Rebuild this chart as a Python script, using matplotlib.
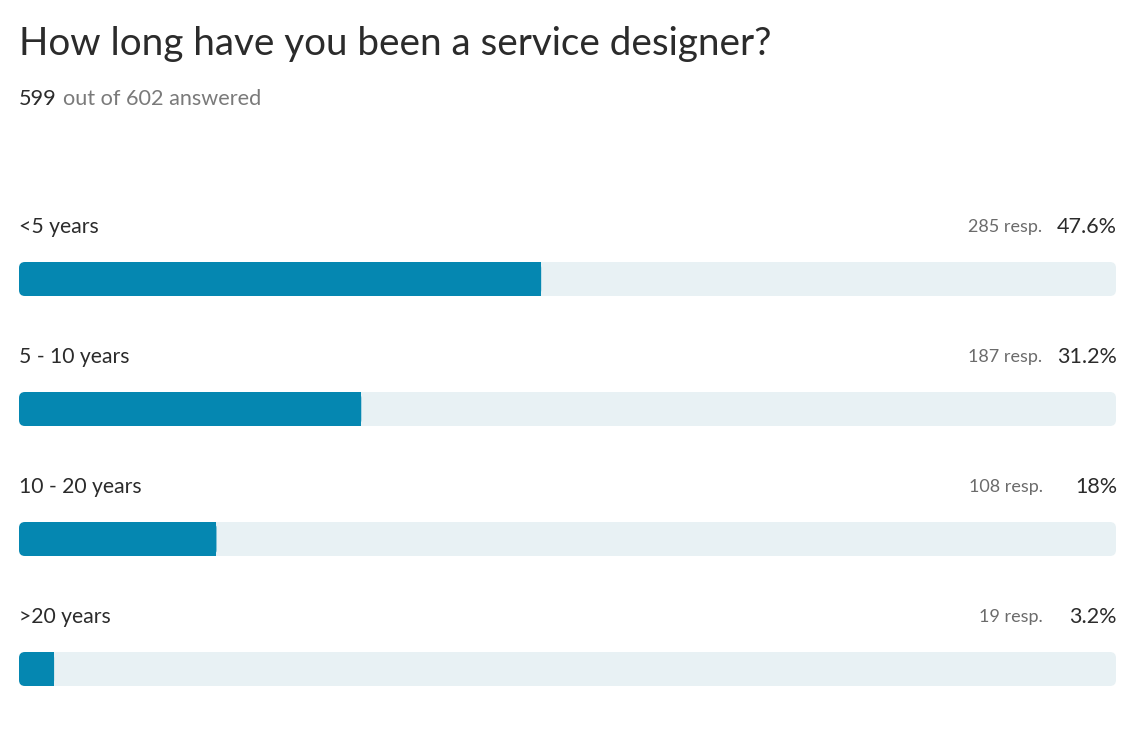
import matplotlib.pyplot as plt
from matplotlib.patches import FancyBboxPatch, Rectangle

title = "How long have you been a service designer?"
answered = 599
total = 602
categories = ["<5 years", "5 - 10 years", "10 - 20 years", ">20 years"]
responses = [285, 187, 108, 19]
percents = [47.6, 31.2, 18, 3.2]

plt.rcParams['font.family'] = ['Lato', 'DejaVu Sans']

W, H = 1131, 741
fig = plt.figure(figsize=(W / 100, H / 100), dpi=100)
fig.patch.set_facecolor("white")

# axes covers the bar region horizontally, full height vertically
x0, x1 = 19, 1116
ax = fig.add_axes([x0 / W, 0, (x1 - x0) / W, 1])
ax.set_xlim(0, 100)
row_px = 130
first_px = 279
ax.set_ylim((H - first_px) / row_px, -first_px / row_px)
ax.axis("off")

bar_h = 34 / row_px
radius_x = 6 / (x1 - x0) * 100
aspect = (1 / row_px) / (100 / (x1 - x0))  # data y per px / data x per px

dark = "#0587b1"
light = "#e8f1f4"

for i, (cat, r, p) in enumerate(zip(categories, responses, percents)):
    bg = FancyBboxPatch((0, i - bar_h / 2), 100, bar_h,
                        boxstyle=f"round,pad=0,rounding_size={radius_x}",
                        mutation_aspect=aspect, fc=light, ec="none")
    ax.add_patch(bg)
    fg = FancyBboxPatch((0, i - bar_h / 2), p, bar_h,
                        boxstyle=f"round,pad=0,rounding_size={radius_x}",
                        mutation_aspect=aspect, fc=dark, ec="none")
    ax.add_patch(fg)
    # square right end of the filled bar
    ax.add_patch(Rectangle((p - radius_x, i - bar_h / 2), radius_x, bar_h,
                           fc=dark, ec="none"))

    ly = i - 52 / row_px
    ax.text(0, ly, cat, fontsize=15.2, color="#2b2b2b", ha="left", va="center")
    ax.text(100.1, ly, f"{p:g}%", fontsize=15.5, color="#2b2b2b",
            ha="right", va="center")
    ax.text(93.3, ly, f"{r} resp.", fontsize=13, color="#6b6b6b",
            ha="right", va="center")

fig.text(x0 / W, 1 - 44 / H, title, fontsize=27.8, color="#2b2b2b",
         ha="left", va="center")
t = fig.text(x0 / W, 1 - 99 / H, f"{answered}", fontsize=15.6, color="#2b2b2b",
             ha="left", va="center")
fig.canvas.draw()
bb = t.get_window_extent()
fig.text((bb.x1 + 6) / W, 1 - 99 / H, f"out of {total} answered", fontsize=15.6,
         color="#7a7a7a", ha="left", va="center")

fig.savefig("out.png", dpi=100, facecolor="white")
